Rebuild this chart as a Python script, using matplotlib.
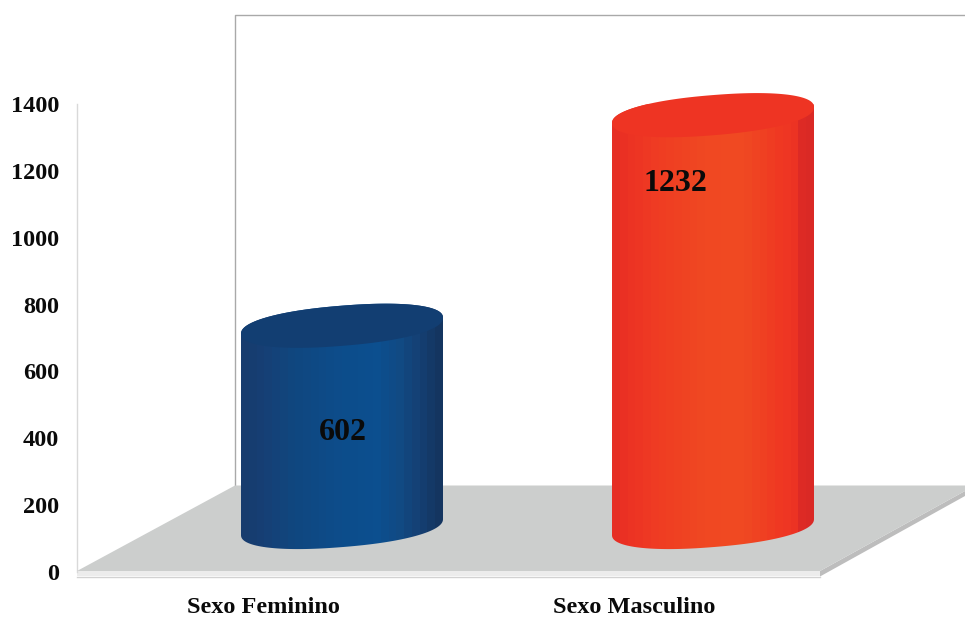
import numpy as np
import matplotlib
matplotlib.use("Agg")
import matplotlib.pyplot as plt
from matplotlib.patches import Polygon
from matplotlib.colors import LinearSegmentedColormap
from matplotlib.transforms import Affine2D

# ---- data ----
categories = ["Sexo Feminino", "Sexo Masculino"]
values = [602, 1232]
y_ticks = [0, 200, 400, 600, 800, 1000, 1200, 1400]

# ---- style ----
W, H = 965, 619
FONT = "Liberation Serif"
body_stops = [
    [(0.0, "#173c6e"), (0.1, "#163f75"), (0.25, "#10477f"), (0.5, "#0d4d8b"), (0.68, "#0c4f8f"),
     (0.8, "#114a83"), (0.9, "#153f73"), (1.0, "#143560")],
    [(0.0, "#e62e24"), (0.06, "#ec3223"), (0.2, "#ef3b23"), (0.45, "#f04822"), (0.65, "#f04a22"),
     (0.85, "#ef3823"), (0.95, "#ec3224"), (0.955, "#de2b25"), (1.0, "#da2925")],
]
top_colors = ["#123e72", "#ee3423"]
label_offsets_px = [(0.5, 107), (-38, 68)]

AX_L, AX_T, AX_B = 77, 104, 572
X0_PX, X_STEP_PX = 263, 371
DEPTH_X_PX, DEPTH_Y_PX = 79, 45
RX_PX, RY_PX, SKEW_PX = 101, 20.5, 8
ROUND = 0.9  # slightly blunter than a true ellipse, as in the original shape

fig = plt.figure(figsize=(W / 100, H / 100), dpi=100, facecolor="white")
ax = fig.add_axes([AX_L / W, (H - AX_B) / H, (W - AX_L) / W, (AX_B - AX_T) / H])
ax.patch.set_visible(False)
xlim = ((AX_L - X0_PX) / X_STEP_PX, (W - X0_PX) / X_STEP_PX)
ylim = (0, 1400)
unit_y = 1400 / (AX_B - AX_T)

# decorations in image pixel coordinates (origin top-left)
px = Affine2D().scale(1, -1).translate(0, H)


def deco(points, color, z):
    ax.add_patch(Polygon(points, closed=True, facecolor=color, edgecolor="none",
                         transform=px, zorder=z, clip_on=False))


ax.plot([235.2, 235.2, 965], [486, 15.3, 15.3], color="#a9a9a9", lw=1.0,
        transform=px, zorder=1, clip_on=False)
deco([(77, 571), (820, 571), (820, 576), (77, 576)], "#ececec", 2)
ax.plot([77, 820], [576.5, 576.5], color="#d2d2d2", lw=1, transform=px, zorder=2, clip_on=False)
deco([(820, 571), (965, 491), (965, 496), (820, 576.5)], "#bdbdbd", 2)
deco([(77, 571), (235, 485.5), (965, 485.5), (965, 491), (820, 571)], "#cccecd", 3)

# cylinders
theta_upper = np.linspace(np.pi, 0, 120)
theta_lower = np.linspace(0, -np.pi, 120)
dx = DEPTH_X_PX / X_STEP_PX
rx = RX_PX / X_STEP_PX
ry = RY_PX * unit_y
skew = SKEW_PX * unit_y
base = DEPTH_Y_PX * unit_y


def ellipse(cx, cy, t):
    c, s = np.cos(t), np.sin(t)
    c2 = np.sign(c) * np.abs(c) ** ROUND
    s2 = np.sign(s) * np.abs(s) ** ROUND
    return np.column_stack([cx + rx * c2, cy + ry * s2 * 0.98 + skew * c2])


for i, val in enumerate(values):
    cx = i + dx
    top_y, bot_y = base + val, base
    outline = np.vstack([ellipse(cx, top_y, theta_upper), ellipse(cx, bot_y, theta_lower)])
    clip = Polygon(outline, closed=True, transform=ax.transData, facecolor="none", edgecolor="none")
    ax.add_patch(clip)
    cmap = LinearSegmentedColormap.from_list(f"body{i}", body_stops[i], N=26)
    im = ax.imshow(np.linspace(0, 1, 26)[None, :], cmap=cmap, aspect="auto",
                   extent=(cx - rx, cx + rx, bot_y - 2 * ry, top_y + 2 * ry),
                   interpolation="nearest", zorder=5)
    im.set_clip_path(clip)
    ax.add_patch(Polygon(ellipse(cx, top_y, np.linspace(0, 2 * np.pi, 240)), closed=True,
                         facecolor=top_colors[i], edgecolor="none", zorder=6, clip_on=False))
    ox, oy = label_offsets_px[i]
    ax.text(cx + ox / X_STEP_PX, top_y - oy * unit_y, str(val), ha="center", va="center",
            family=FONT, weight="bold", fontsize=23, color="#0a0a0a", zorder=7)

# axes
ax.set_xlim(*xlim)
ax.set_ylim(*ylim)
ax.set_xticks(range(len(categories)), categories)
ax.set_yticks(y_ticks)
ax.tick_params(axis="both", length=0)
ax.tick_params(axis="y", pad=13)
ax.tick_params(axis="x", pad=18)
for lab in ax.get_xticklabels() + ax.get_yticklabels():
    lab.set_family(FONT)
    lab.set_weight("bold")
    lab.set_color("#0a0a0a")
for lab in ax.get_yticklabels():
    lab.set_fontsize(17.5)
for lab in ax.get_xticklabels():
    lab.set_fontsize(17.5)
for s in ["top", "right", "bottom"]:
    ax.spines[s].set_visible(False)
ax.spines["left"].set_color("#d9d9d9")
ax.spines["left"].set_linewidth(1.0)

fig.savefig("out.png", dpi=100)
